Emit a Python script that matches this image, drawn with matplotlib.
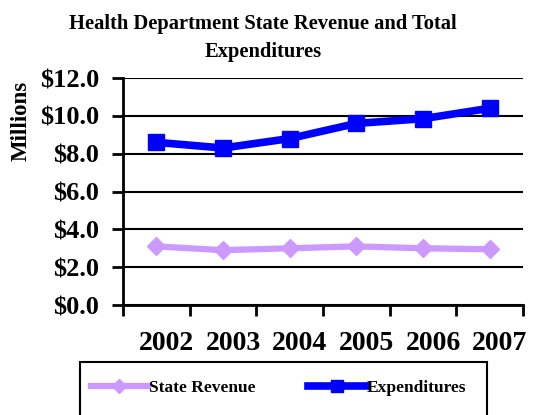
import numpy as np
import matplotlib.pyplot as plt
import matplotlib.transforms as mtransforms
from matplotlib.patches import Rectangle

years = ['2002', '2003', '2004', '2005', '2006', '2007']
state_revenue = [3.1, 2.9, 3.0, 3.1, 3.0, 2.95]
expenditures = [8.6, 8.3, 8.8, 9.6, 9.85, 10.4]
ytick_vals = [0, 2, 4, 6, 8, 10, 12]

plt.rcParams['font.family'] = ['Liberation Serif', 'DejaVu Serif']
plt.rcParams['font.weight'] = 'bold'

fig = plt.figure(figsize=(5.45, 4.15), dpi=100)
ax = fig.add_axes([0.2257, 0.265, 0.734, 0.547])

x = np.arange(len(years))
ax.plot(x, state_revenue, color='#CC99FF', lw=4.5, marker='D', ms=9,
        label='State Revenue', solid_joinstyle='round')
ax.plot(x, expenditures, color='#0000FF', lw=5.5, marker='s', ms=11,
        label='Expenditures', solid_joinstyle='round')

ax.set_xlim(-0.5, len(years) - 0.5)
ax.set_ylim(0, 12)
ax.set_yticks(ytick_vals)
ax.set_yticklabels(['$%.1f' % v for v in ytick_vals], fontsize=19, fontweight='bold')
ax.yaxis.grid(True, color='black', lw=1.5)
ax.set_axisbelow(True)

ax.set_xticks(x)
ax.set_xticklabels(years, fontsize=20, fontweight='bold')
ax.tick_params(axis='x', which='major', length=0, pad=19)
ax.set_xticks(np.arange(-0.5, len(years), 1.0), minor=True)
ax.tick_params(axis='x', which='minor', length=8, width=2, direction='out')
ax.tick_params(axis='y', length=8, width=2, direction='out', pad=9)

# year labels sit a little right of the category centres in the original
shift = mtransforms.ScaledTranslation(10 / 100, 0, fig.dpi_scale_trans)
for lbl in ax.get_xticklabels():
    lbl.set_transform(lbl.get_transform() + shift)

for s in ['top', 'right']:
    ax.spines[s].set_visible(False)
for s in ['left', 'bottom']:
    ax.spines[s].set_linewidth(2)

ax.set_ylabel('Millions', fontsize=16.5, fontweight='bold')
ax.yaxis.set_label_coords(-0.228, 0.81)

fig.text(0.483, 0.908, 'Health Department State Revenue and Total\nExpenditures',
         ha='center', va='center', fontsize=14.8, fontweight='bold', linespacing=1.55)

fig.patches.append(Rectangle((0.147, -0.05), 0.747, 0.178, transform=fig.transFigure,
                             fill=False, edgecolor='black', lw=1.5))
fig.legend(loc='center left', bbox_to_anchor=(0.138, 0.066), ncol=2, frameon=False,
           handlelength=3.3, columnspacing=3.05, handletextpad=0.05,
           prop={'weight': 'bold', 'size': 12.5}, markerscale=0.8)

plt.savefig('out.png', dpi=100)
